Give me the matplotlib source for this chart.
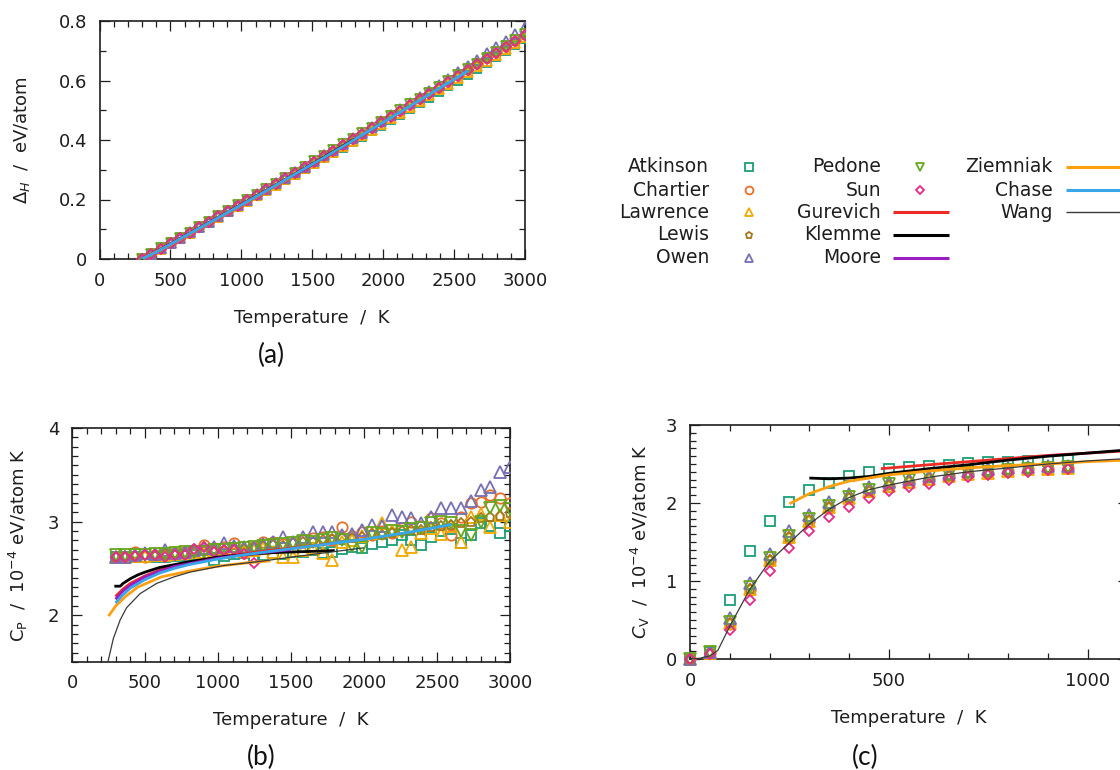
import matplotlib
matplotlib.use('Agg')
import matplotlib.pyplot as plt
from matplotlib.lines import Line2D
from matplotlib.ticker import MultipleLocator, FuncFormatter

# ---------------- data ----------------
# temperature grid of the MD data sets in panels (a) and (b)
T_md = [298, 366, 433, 501, 568, 636, 703, 771, 838, 906, 974, 1041, 1109, 1176,
        1244, 1311, 1379, 1446, 1514, 1582, 1649, 1717, 1784, 1852, 1919, 1987,
        2054, 2122, 2190, 2257, 2325, 2392, 2460, 2527, 2595, 2662, 2730, 2798,
        2865, 2933, 3000]

# panel (a): enthalpy change, eV/atom
dH_atkinson = [0.000, 0.018, 0.035, 0.053, 0.071, 0.088, 0.106, 0.124, 0.141, 0.159, 0.177,
               0.194, 0.212, 0.230, 0.248, 0.266, 0.284, 0.302, 0.320, 0.338, 0.356, 0.374,
               0.393, 0.411, 0.429, 0.448, 0.466, 0.485, 0.504, 0.523, 0.542, 0.561, 0.580,
               0.600, 0.619, 0.639, 0.658, 0.678, 0.698, 0.718, 0.738]
dH_chartier = [0.000, 0.018, 0.036, 0.053, 0.071, 0.089, 0.107, 0.125, 0.143, 0.161, 0.179,
               0.197, 0.215, 0.233, 0.252, 0.270, 0.289, 0.307, 0.326, 0.345, 0.364, 0.383,
               0.402, 0.421, 0.440, 0.459, 0.479, 0.498, 0.518, 0.537, 0.557, 0.576, 0.596,
               0.615, 0.635, 0.654, 0.674, 0.693, 0.713, 0.732, 0.752]
dH_lawrence = [0.000, 0.018, 0.035, 0.053, 0.071, 0.089, 0.106, 0.124, 0.142, 0.160, 0.178,
               0.196, 0.214, 0.232, 0.250, 0.268, 0.287, 0.305, 0.323, 0.342, 0.360, 0.379,
               0.397, 0.416, 0.435, 0.454, 0.473, 0.492, 0.512, 0.531, 0.550, 0.570, 0.589,
               0.609, 0.628, 0.648, 0.667, 0.687, 0.706, 0.726, 0.745]
dH_lewis = [0.000, 0.018, 0.036, 0.053, 0.071, 0.089, 0.107, 0.125, 0.143, 0.161, 0.179,
            0.197, 0.215, 0.233, 0.251, 0.270, 0.288, 0.307, 0.325, 0.344, 0.363, 0.382,
            0.401, 0.420, 0.439, 0.458, 0.477, 0.497, 0.516, 0.536, 0.555, 0.575, 0.594,
            0.614, 0.633, 0.653, 0.672, 0.692, 0.711, 0.731, 0.750]
dH_owen = [0.000, 0.018, 0.036, 0.054, 0.072, 0.090, 0.108, 0.126, 0.144, 0.162, 0.181,
           0.199, 0.217, 0.236, 0.254, 0.273, 0.291, 0.310, 0.329, 0.348, 0.367, 0.386,
           0.406, 0.425, 0.445, 0.464, 0.484, 0.504, 0.524, 0.545, 0.565, 0.586, 0.606,
           0.627, 0.648, 0.669, 0.691, 0.713, 0.734, 0.756, 0.779]
dH_pedone = [0.000, 0.018, 0.036, 0.054, 0.072, 0.089, 0.107, 0.125, 0.144, 0.162, 0.180,
             0.198, 0.216, 0.235, 0.253, 0.272, 0.290, 0.309, 0.328, 0.347, 0.366, 0.385,
             0.404, 0.423, 0.442, 0.461, 0.481, 0.500, 0.520, 0.539, 0.559, 0.578, 0.598,
             0.618, 0.637, 0.657, 0.677, 0.696, 0.716, 0.736, 0.755]
dH_sun = [0.000, 0.018, 0.035, 0.053, 0.071, 0.089, 0.107, 0.125, 0.143, 0.161, 0.179,
          0.197, 0.216, 0.234, 0.252, 0.271, 0.289, 0.308, 0.327, 0.345, 0.364, 0.383,
          0.402, 0.421, 0.440, 0.459, 0.478, 0.498, 0.517, 0.537, 0.556, 0.576, 0.595,
          0.615, 0.634, 0.654, 0.673, 0.693, 0.713, 0.732, 0.752]

T_gurevich_a = [298, 500, 700, 900, 1100, 1300, 1500, 1700, 1800]
dH_gurevich = [0.000, 0.051, 0.104, 0.157, 0.211, 0.265, 0.320, 0.376, 0.404]
T_klemme_a = [298, 500, 700, 900, 1100, 1300, 1500, 1700, 1800]
dH_klemme = [0.000, 0.050, 0.103, 0.156, 0.210, 0.264, 0.319, 0.375, 0.403]
T_moore_a = [298, 500, 700, 900, 1100, 1300, 1500]
dH_moore = [0.000, 0.050, 0.103, 0.156, 0.209, 0.264, 0.318]
T_ziemniak_a = [298, 500, 700, 900, 1100, 1300, 1360]
dH_ziemniak = [0.000, 0.048, 0.101, 0.154, 0.207, 0.262, 0.278]
T_chase_a = [298, 400, 600, 800, 1000, 1200, 1400, 1600, 1800, 2000, 2200, 2400, 2600]
dH_chase = [0.000, 0.023, 0.076, 0.129, 0.182, 0.236, 0.291, 0.346, 0.402, 0.459, 0.517, 0.575, 0.633]
T_wang_a = [298, 500, 700, 900, 1100, 1300, 1500, 1700, 1900, 2000]
dH_wang = [0.000, 0.047, 0.100, 0.153, 0.206, 0.261, 0.316, 0.372, 0.428, 0.456]

# panel (b): Cp, 1e-4 eV/atom K
cp_atkinson = [2.62, 2.62, 2.62, 2.62, 2.62, 2.62, 2.63, 2.63, 2.64, 2.64, 2.59, 2.63, 2.65, 2.66,
               2.62, 2.64, 2.66, 2.65, 2.68, 2.68, 2.70, 2.66, 2.67, 2.71, 2.73, 2.72, 2.76, 2.78,
               2.80, 2.86, 2.80, 2.75, 2.84, 2.90, 2.92, 2.77, 2.86, 2.99, 2.95, 2.88, 2.95]
cp_chartier = [2.62, 2.62, 2.68, 2.62, 2.64, 2.65, 2.66, 2.68, 2.70, 2.75, 2.72, 2.73, 2.77, 2.66,
               2.73, 2.78, 2.78, 2.76, 2.77, 2.80, 2.82, 2.84, 2.80, 2.94, 2.85, 2.89, 2.86, 2.90,
               2.88, 2.93, 3.00, 2.95, 3.04, 2.98, 2.86, 3.05, 3.20, 3.21, 3.28, 3.25, 3.20]
cp_lawrence = [2.62, 2.62, 2.63, 2.63, 2.64, 2.64, 2.65, 2.66, 2.67, 2.68, 2.69, 2.68, 2.70, 2.69,
               2.70, 2.72, 2.68, 2.62, 2.62, 2.70, 2.72, 2.66, 2.59, 2.78, 2.80, 2.85, 2.88, 2.98,
               2.90, 2.70, 2.73, 2.88, 2.93, 2.87, 2.95, 2.78, 3.05, 3.08, 2.94, 3.07, 3.00]
cp_lewis = [2.62, 2.63, 2.63, 2.64, 2.63, 2.65, 2.66, 2.66, 2.68, 2.69, 2.70, 2.70, 2.72, 2.71,
            2.73, 2.74, 2.75, 2.74, 2.77, 2.78, 2.78, 2.80, 2.81, 2.83, 2.82, 2.84, 2.87, 2.86,
            2.88, 2.90, 2.91, 2.91, 2.94, 2.95, 2.96, 2.99, 3.00, 3.04, 3.05, 3.06, 3.09]
cp_owen = [2.62, 2.62, 2.64, 2.66, 2.65, 2.70, 2.66, 2.68, 2.70, 2.72, 2.73, 2.77, 2.74, 2.73,
           2.72, 2.76, 2.78, 2.84, 2.78, 2.84, 2.89, 2.89, 2.89, 2.86, 2.87, 2.91, 2.96, 2.95,
           3.07, 3.05, 3.04, 2.98, 3.05, 3.14, 3.14, 3.14, 3.22, 3.34, 3.37, 3.53, 3.58]
cp_pedone = [2.64, 2.64, 2.64, 2.64, 2.65, 2.65, 2.66, 2.67, 2.68, 2.68, 2.70, 2.70, 2.71, 2.72,
             2.73, 2.74, 2.75, 2.76, 2.77, 2.79, 2.78, 2.80, 2.82, 2.80, 2.74, 2.73, 2.88, 2.87,
             2.90, 2.89, 2.92, 2.93, 2.98, 3.00, 2.98, 2.90, 2.86, 3.00, 3.14, 3.17, 3.13]
T_sun_b = [298, 366, 433, 501, 568, 636, 703, 771, 838, 906, 974, 1041, 1109, 1176, 1244]
cp_sun = [2.62, 2.62, 2.63, 2.64, 2.64, 2.62, 2.64, 2.64, 2.71, 2.73, 2.68, 2.70, 2.70, 2.65, 2.56]

T_gurevich_b = [298, 350, 400, 500, 600, 700, 800, 1000, 1200, 1400, 1600, 1800]
cp_gurevich = [2.20, 2.28, 2.34, 2.42, 2.48, 2.53, 2.56, 2.62, 2.66, 2.70, 2.73, 2.77]
T_klemme_b = [290, 330, 350, 400, 450, 500, 600, 800, 1000, 1200, 1400, 1600, 1800]
cp_klemme = [2.31, 2.31, 2.34, 2.39, 2.43, 2.46, 2.51, 2.57, 2.62, 2.65, 2.67, 2.68, 2.69]
T_moore_b = [298, 350, 400, 500, 600, 700, 800, 1000, 1200, 1500]
cp_moore = [2.17, 2.26, 2.32, 2.41, 2.47, 2.52, 2.55, 2.61, 2.65, 2.70]
T_ziemniak_b = [250, 300, 367, 450, 613, 800, 981, 1200, 1360]
cp_ziemniak = [1.99, 2.10, 2.20, 2.30, 2.41, 2.47, 2.52, 2.56, 2.58]
T_chase_b = [298, 350, 400, 500, 600, 700, 800, 1000, 1200, 1400, 1600, 1800, 2000, 2200, 2400, 2600]
cp_chase = [2.13, 2.22, 2.29, 2.38, 2.45, 2.50, 2.54, 2.60, 2.65, 2.69, 2.73, 2.77, 2.81, 2.86, 2.91, 2.97]
T_wang_b = [246, 283, 330, 374, 466, 580, 700, 808, 1036, 1265, 1500, 1750, 2000]
cp_wang = [1.50, 1.75, 1.95, 2.08, 2.23, 2.34, 2.41, 2.46, 2.53, 2.57, 2.62, 2.67, 2.72]

# panel (c): Cv, 1e-4 eV/atom K
T_cv = [0, 50, 100, 150, 200, 250, 300, 350, 400, 450, 500, 550, 600, 650, 700, 750, 800, 850, 900, 950]
cv_atkinson = [0.00, 0.09, 0.76, 1.38, 1.77, 2.01, 2.17, 2.26, 2.34, 2.40, 2.44, 2.46, 2.48, 2.49,
               2.51, 2.52, 2.53, 2.54, 2.54, 2.55]
cv_chartier = [0.00, 0.08, 0.45, 0.89, 1.26, 1.55, 1.77, 1.94, 2.06, 2.15, 2.22, 2.27, 2.31, 2.34,
               2.37, 2.39, 2.41, 2.43, 2.44, 2.45]
cv_lawrence = [0.00, 0.08, 0.46, 0.90, 1.27, 1.56, 1.77, 1.95, 2.06, 2.16, 2.22, 2.27, 2.31, 2.34,
               2.37, 2.39, 2.41, 2.43, 2.44, 2.45]
cv_lewis = [0.00, 0.08, 0.46, 0.90, 1.27, 1.56, 1.78, 1.95, 2.07, 2.16, 2.23, 2.28, 2.32, 2.35,
            2.38, 2.40, 2.42, 2.43, 2.45, 2.46]
cv_owen = [0.00, 0.09, 0.52, 0.97, 1.35, 1.64, 1.85, 2.01, 2.12, 2.21, 2.27, 2.31, 2.35, 2.38,
           2.41, 2.43, 2.45, 2.46, 2.47, 2.48]
cv_pedone = [0.00, 0.09, 0.48, 0.92, 1.29, 1.58, 1.79, 1.96, 2.08, 2.17, 2.24, 2.29, 2.33, 2.36,
             2.38, 2.40, 2.42, 2.44, 2.45, 2.46]
cv_sun = [0.00, 0.07, 0.37, 0.76, 1.13, 1.42, 1.64, 1.82, 1.95, 2.06, 2.15, 2.20, 2.24, 2.29,
          2.33, 2.36, 2.38, 2.40, 2.42, 2.44]

T_gurevich_c = [480, 600, 700, 800, 900, 1000, 1100]
cv_gurevich = [2.44, 2.49, 2.53, 2.57, 2.61, 2.64, 2.67]
T_klemme_c = [300, 350, 400, 450, 500, 600, 700, 800, 900, 1000, 1100]
cv_klemme = [2.32, 2.31, 2.32, 2.34, 2.38, 2.44, 2.49, 2.55, 2.60, 2.64, 2.68]
T_ziemniak_c = [250, 300, 350, 400, 450, 500, 600, 700, 800, 900, 1000, 1100]
cv_ziemniak = [1.99, 2.12, 2.21, 2.28, 2.32, 2.36, 2.41, 2.45, 2.48, 2.50, 2.53, 2.55]
T_wang_c = [0, 25, 50, 70, 100, 150, 200, 250, 300, 350, 400, 450, 500, 600, 700, 800, 900, 1000, 1100]
cv_wang = [0.00, 0.01, 0.04, 0.11, 0.42, 0.89, 1.25, 1.49, 1.73, 1.92, 2.07, 2.17, 2.23, 2.33,
           2.40, 2.45, 2.50, 2.54, 2.57]

series_names = ['Atkinson', 'Chartier', 'Lawrence', 'Lewis', 'Owen', 'Pedone', 'Sun']
line_names = ['Gurevich', 'Klemme', 'Moore', 'Ziemniak', 'Chase', 'Wang']

# ---------------- styles ----------------
TXT = '#1e1e1e'
mstyle = {
    'Atkinson': dict(marker='s', color='#1b9e77', ms=7.0),
    'Chartier': dict(marker='o', color='#e8702a', ms=7.5),
    'Lawrence': dict(marker='^', color='#f2a900', ms=8.0),
    'Lewis': dict(marker='p', color='#a6761d', ms=6.5),
    'Owen': dict(marker='^', color='#7570b3', ms=8.0),
    'Pedone': dict(marker='v', color='#66a61e', ms=8.0),
    'Sun': dict(marker='D', color='#e7298a', ms=5.5),
}
lstyle = {
    'Gurevich': dict(color='#ee2a24', lw=2.0),
    'Klemme': dict(color='#000000', lw=2.0),
    'Moore': dict(color='#9a1fc0', lw=2.0),
    'Ziemniak': dict(color='#ffa010', lw=2.0),
    'Chase': dict(color='#3aa6ea', lw=2.0),
    'Wang': dict(color='#3a3a3a', lw=0.9),
}

plt.rcParams['font.family'] = ['DejaVu Sans']
plt.rcParams['mathtext.fontset'] = 'dejavusans'

W, H = 1120, 770
fig = plt.figure(figsize=(11.2, 7.7), dpi=100)


def axes_px(l, t, r, b):
    return fig.add_axes([l / W, 1 - b / H, (r - l) / W, (b - t) / H])


def style_axes(ax, xmaj, xmin, ymaj, ymin):
    ax.xaxis.set_major_locator(MultipleLocator(xmaj))
    ax.xaxis.set_minor_locator(MultipleLocator(xmin))
    ax.yaxis.set_major_locator(MultipleLocator(ymaj))
    ax.yaxis.set_minor_locator(MultipleLocator(ymin))
    fmt = FuncFormatter(lambda v, p: '%g' % round(v, 6))
    ax.xaxis.set_major_formatter(fmt)
    ax.yaxis.set_major_formatter(fmt)
    ax.tick_params(which='both', direction='in', top=True, right=True,
                   colors=TXT, labelsize=13, width=0.9)
    ax.tick_params(which='major', length=7, pad=9)
    ax.tick_params(which='minor', length=4)
    for s in ax.spines.values():
        s.set_linewidth(1.2)
        s.set_color(TXT)


def plot_markers(ax, T, y, name, scale=1.0, clip=True):
    st = mstyle[name]
    ax.plot(T, y, linestyle='none', marker=st['marker'], ms=st['ms'] * scale,
            mfc='none', mec=st['color'], mew=1.3, clip_on=clip, zorder=3)


def plot_line(ax, T, y, name, z=4):
    st = lstyle[name]
    ax.plot(T, y, color=st['color'], lw=st['lw'], zorder=z, solid_capstyle='butt')


# ---------------- panel (a) ----------------
axa = axes_px(99.5, 21, 525, 259)
for name, vals in zip(series_names, [dH_atkinson, dH_chartier, dH_lawrence, dH_lewis,
                                     dH_owen, dH_pedone, dH_sun]):
    plot_markers(axa, T_md, vals, name, scale=0.88)
for name, (tt, vv) in zip(line_names, [(T_gurevich_a, dH_gurevich), (T_klemme_a, dH_klemme),
                                       (T_moore_a, dH_moore), (T_ziemniak_a, dH_ziemniak),
                                       (T_chase_a, dH_chase), (T_wang_a, dH_wang)]):
    plot_line(axa, tt, vv, name, z=5 if name == 'Chase' else 4)
axa.set_xlim(0, 3000)
axa.set_ylim(0, 0.8)
style_axes(axa, 500, 100, 0.2, 0.1)
axa.set_xlabel('Temperature  /  K', fontsize=13, color=TXT, labelpad=14)
axa.set_ylabel(r'$\Delta_{H}$  /  eV/atom', fontsize=13, color=TXT, labelpad=19)

# ---------------- panel (b) ----------------
axb = axes_px(72, 428, 510, 662)
for name, tt, vals in zip(series_names,
                          [T_md, T_md, T_md, T_md, T_md, T_md, T_sun_b],
                          [cp_atkinson, cp_chartier, cp_lawrence, cp_lewis,
                           cp_owen, cp_pedone, cp_sun]):
    plot_markers(axb, tt, vals, name)
for name, (tt, vv) in zip(line_names, [(T_gurevich_b, cp_gurevich), (T_klemme_b, cp_klemme),
                                       (T_moore_b, cp_moore), (T_ziemniak_b, cp_ziemniak),
                                       (T_chase_b, cp_chase), (T_wang_b, cp_wang)]):
    plot_line(axb, tt, vv, name)
axb.set_xlim(0, 3000)
axb.set_ylim(1.5, 4)
style_axes(axb, 500, 100, 1, 0.1)
axb.set_xlabel('Temperature  /  K', fontsize=13, color=TXT, labelpad=13)
axb.set_ylabel(r'C$_\mathrm{P}$  /  10$^{-4}$ eV/atom K', fontsize=13, color=TXT, labelpad=13)

# ---------------- panel (c) ----------------
axc = axes_px(690, 425, 1127.5, 659)
for name, vals in zip(series_names, [cv_atkinson, cv_chartier, cv_lawrence, cv_lewis,
                                     cv_owen, cv_pedone, cv_sun]):
    plot_markers(axc, T_cv, vals, name, clip=False)
for name, (tt, vv) in zip(['Gurevich', 'Klemme', 'Ziemniak', 'Wang'],
                          [(T_gurevich_c, cv_gurevich), (T_klemme_c, cv_klemme),
                           (T_ziemniak_c, cv_ziemniak), (T_wang_c, cv_wang)]):
    plot_line(axc, tt, vv, name)
axc.set_xlim(0, 1100)
axc.set_ylim(0, 3)
style_axes(axc, 500, 100, 1, 0.1)
axc.set_xlabel('Temperature  /  K', fontsize=13, color=TXT, labelpad=14)
axc.set_ylabel(r'$C_\mathrm{V}$  /  10$^{-4}$ eV/atom K', fontsize=13, color=TXT, labelpad=10)

# ---------------- panel letters ----------------
for x, y, s in [(271, 355, '(a)'), (261, 757, '(b)'), (865, 757, '(c)')]:
    fig.text(x / W, 1 - y / H, s, ha='center', va='center', fontsize=19,
             family=['Lato', 'DejaVu Sans'], color='#111111')

# ---------------- legend (gnuplot style) ----------------
rows = [167, 190, 212, 235, 257.5]
legend_cols = [
    (709, [('Atkinson', 'm'), ('Chartier', 'm'), ('Lawrence', 'm'), ('Lewis', 'm'), ('Owen', 'm')],
     749, None),
    (881, [('Pedone', 'm'), ('Sun', 'm'), ('Gurevich', 'l'), ('Klemme', 'l'), ('Moore', 'l')],
     920, (893, 949)),
    (1053, [('Ziemniak', 'l'), ('Chase', 'l'), ('Wang', 'l')], None, (1066, 1125)),
]
for xr, entries, mx, lspan in legend_cols:
    for (name, kind), yy in zip(entries, rows):
        yf = 1 - yy / H
        fig.text(xr / W, yf, name, ha='right', va='center', fontsize=13.5, color=TXT)
        if kind == 'm':
            st = mstyle[name]
            fig.add_artist(Line2D([mx / W], [yf], linestyle='none', marker=st['marker'],
                                  ms=st['ms'] * 0.75, mfc='none', mec=st['color'], mew=1.3))
        else:
            st = lstyle[name]
            fig.add_artist(Line2D([lspan[0] / W, lspan[1] / W], [yf, yf],
                                  color=st['color'], lw=st['lw'] * 1.1, solid_capstyle='butt'))

fig.savefig('out.png', dpi=100)
